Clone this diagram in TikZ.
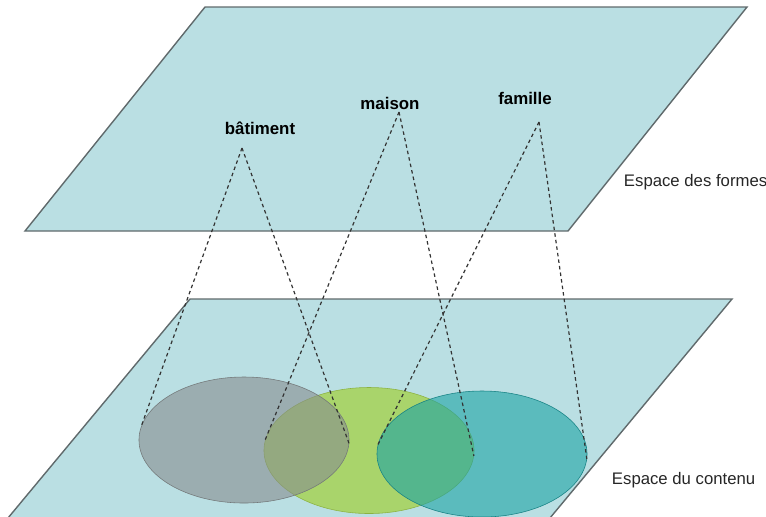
\documentclass[tikz,border=0pt]{standalone}
\usepackage{fontspec}
\setmainfont{Liberation Sans}
\usetikzlibrary{shapes.geometric}
\definecolor{plan}{RGB}{186,223,227}
\definecolor{bord}{RGB}{96,106,108}
\definecolor{gris}{RGB}{135,141,142}
\definecolor{vert}{RGB}{165,210,77}
\definecolor{bleu}{RGB}{28,163,165}
\begin{document}
\begin{tikzpicture}[x=0.025cm, y=-0.025cm,
    mot/.style={font=\fontsize{12}{14}\selectfont\bfseries},
    espace/.style={font=\fontsize{11.9}{14}\selectfont, anchor=west, text=black!85},
    zone/.style={ellipse, minimum width=5.25cm, minimum height=3.15cm, inner sep=0pt}]
    \useasboundingbox (0,0) rectangle (766,516);
    \clip (0,0) rectangle (766,516);

    % les deux plans
    \filldraw[fill=plan, draw=bord, line width=1pt] (205,7) -- (747,7) -- (568,231) -- (25,231) -- cycle;
    \filldraw[fill=plan, draw=bord, line width=1pt] (190,299) -- (732,299) -- (540,530) -- (-2,530) -- cycle;

    % zones du contenu
    \node[zone, fill=vert, fill opacity=0.8, draw=vert!85!black] at (369,450.5) (vert) {};
    \node[zone, fill=gris, fill opacity=0.6, draw=gris!85!black] at (244,440) (gris) {};
    \node[zone, fill=bleu, fill opacity=0.6, draw=bleu!80!black] at (482,454) (bleu) {};

    \node[mot] at (260,128) (batiment) {bâtiment};
    \node[mot] at (390,103) (maison) {maison};
    \node[mot] at (525,98) (famille) {famille};
    \coordinate (b) at (242,148);
    \coordinate (m) at (399,112);
    \coordinate (f) at (539,122);

    \node[espace] at (619,182) (formes) {Espace des formes};
    \node[espace] at (607,480) (contenu) {Espace du contenu};

    \path[draw=black!80, line width=0.85pt, dash pattern=on 2.5pt off 2.2pt]
        (b) edge (gris.172)
        (b) edge (gris.-2)
        (m) edge (vert.174)
        (m) edge (vert.-3)
        (f) edge (bleu.175)
        (f) edge (bleu.-3);
\end{tikzpicture}
\end{document}
